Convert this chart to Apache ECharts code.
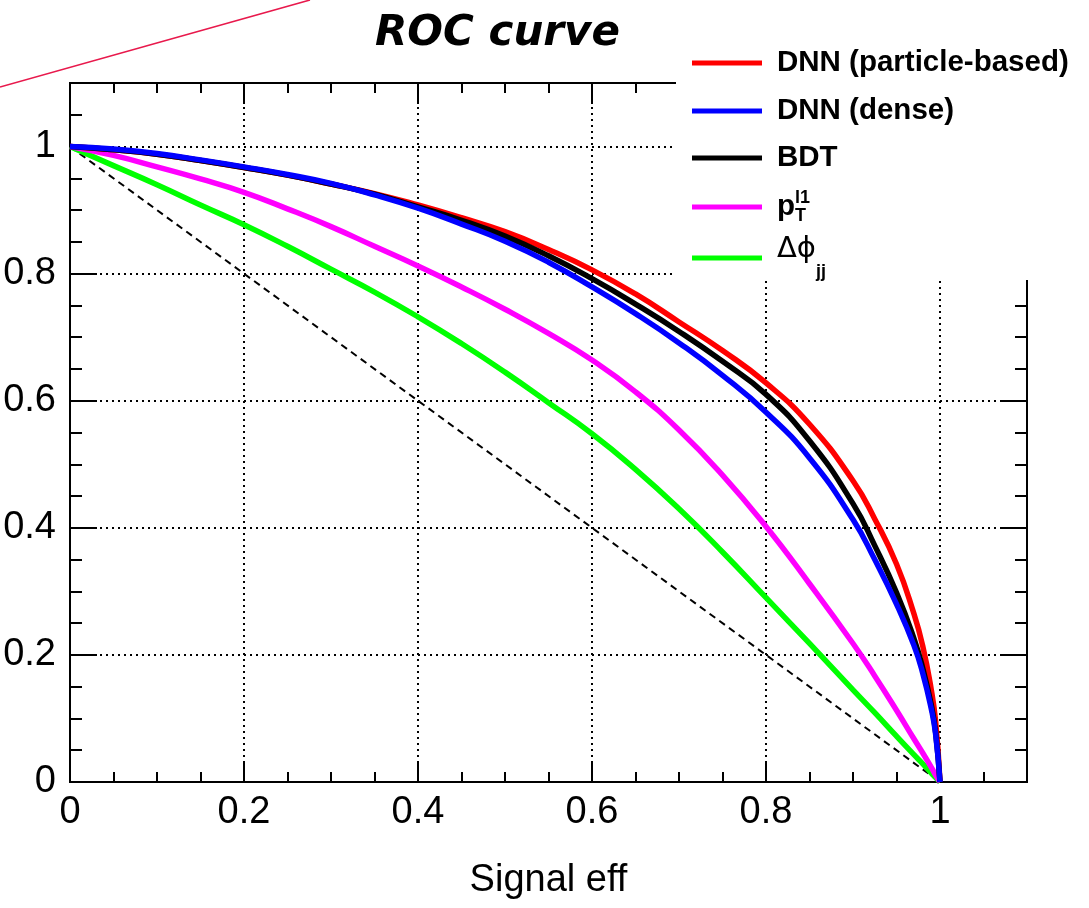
<!DOCTYPE html>
<html>
<head>
<meta charset="utf-8">
<script src="https://cdn.jsdelivr.net/npm/echarts@6/dist/echarts.min.js"></script>
<style>
  html, body { margin: 0; padding: 0; background: #fff; }
  #chart { width: 1089px; height: 908px; }
</style>
</head>
<body>
<div id="chart"></div>
<script>
// signal efficiency (x) and background rejection (y)
var signalEff = [0, 0.05, 0.1, 0.15, 0.2, 0.25, 0.3, 0.35, 0.4, 0.45, 0.5, 0.55, 0.6, 0.65, 0.7, 0.75, 0.8, 0.85, 0.9, 0.925, 0.95, 0.97, 0.98, 0.99, 0.995, 1.0];
var dnnParticle = [1, 0.995, 0.988, 0.978, 0.967, 0.955, 0.941, 0.926, 0.908, 0.888, 0.866, 0.838, 0.806, 0.768, 0.724, 0.679, 0.628, 0.563, 0.474, 0.414, 0.343, 0.265, 0.215, 0.145, 0.095, 0];
var dnnDense = [1, 0.996, 0.989, 0.979, 0.968, 0.956, 0.942, 0.924, 0.903, 0.878, 0.851, 0.818, 0.779, 0.737, 0.691, 0.640, 0.582, 0.510, 0.413, 0.350, 0.280, 0.215, 0.172, 0.115, 0.075, 0];
var bdt = [1, 0.995, 0.988, 0.978, 0.967, 0.955, 0.941, 0.925, 0.905, 0.884, 0.859, 0.828, 0.792, 0.752, 0.709, 0.662, 0.610, 0.537, 0.438, 0.372, 0.298, 0.226, 0.180, 0.121, 0.078, 0];
var ptLead = [1, 0.986, 0.968, 0.949, 0.928, 0.902, 0.874, 0.843, 0.812, 0.779, 0.744, 0.706, 0.664, 0.614, 0.554, 0.483, 0.402, 0.312, 0.218, 0.167, 0.113, 0.068, 0.046, 0.023, 0.011, 0];
var dphiJJ = [1, 0.970, 0.940, 0.908, 0.877, 0.843, 0.807, 0.771, 0.732, 0.690, 0.645, 0.597, 0.548, 0.492, 0.430, 0.362, 0.290, 0.218, 0.145, 0.109, 0.072, 0.043, 0.029, 0.014, 0.007, 0];
var randomX = [0, 1];
var randomY = [1, 0];

var seriesNames = ['DNN (particle-based)', 'DNN (dense)', 'BDT', 'pT l1', 'Δϕ jj'];
var seriesColors = ['#ff0000', '#0000ff', '#000000', '#ff00ff', '#00ff00'];
var legendRowY = [63, 111, 158, 207, 255];

function pairs(xs, ys) {
  var out = [];
  for (var i = 0; i < xs.length; i++) out.push([xs[i], ys[i]]);
  return out;
}

var chart = echarts.init(document.getElementById('chart'));
var labelFont = 'Liberation Sans, Arial, sans-serif';

function tickLabel(v) {
  if (v > 1.001) return '';
  return String(+v.toFixed(1));
}

function axis(dim, pos, step, tickLen, major) {
  var a = {
    type: 'value', min: 0, max: 1.1, interval: step, position: pos,
    axisLine: { show: false, onZero: false },
    axisTick: { show: true, inside: true, length: tickLen, lineStyle: { color: '#000', width: 2 } },
    axisLabel: { show: false },
    splitLine: { show: false }
  };
  if (major) {
    a.axisLine = { show: true, onZero: false, lineStyle: { color: '#000', width: 2 } };
    a.axisLabel = { show: true, color: '#000', fontSize: 38, fontFamily: labelFont, margin: dim === 'x' ? 12 : 14, formatter: tickLabel };
    a.splitLine = { show: true, lineStyle: { color: '#000', width: 2, type: [2, 4] } };
  }
  return a;
}

var xMain = axis('x', 'bottom', 0.2, 21, true);
xMain.name = 'Signal eff';
xMain.nameLocation = 'middle';
xMain.nameGap = 80;
xMain.nameTextStyle = { color: '#000', fontSize: 38, fontFamily: labelFont };

var lineSeries = [
  { name: 'random', type: 'line', data: pairs(randomX, randomY), symbol: 'none', color: '#000',
    lineStyle: { color: '#000', width: 2, type: [7, 5] } }
];
var curveData = [dnnParticle, dnnDense, bdt, ptLead, dphiJJ];
var drawOrder = [4, 3, 0, 2, 1];
drawOrder.forEach(function (i) {
  lineSeries.push({
    name: seriesNames[i], type: 'line', data: pairs(signalEff, curveData[i]),
    symbol: 'none', smooth: 0.5, color: seriesColors[i],
    lineStyle: { color: seriesColors[i], width: 5.5 }
  });
});

var legendText = {
  'DNN (particle-based)': '{b|DNN (particle-based)}',
  'DNN (dense)': '{b|DNN (dense)}',
  'BDT': '{b|BDT}',
  'pT l1': '{p|p}{sup|l1}{sub|T}',
  'Δϕ jj': '{g|Δϕ}{sub2|jj}'
};
var richStyles = {
  b: { fontSize: 29.5, fontWeight: 'bold', fontFamily: labelFont, color: '#000', lineHeight: 30 },
  p: { fontSize: 29.5, fontWeight: 'bold', fontFamily: labelFont, color: '#000', lineHeight: 36 },
  g: { fontSize: 29, fontFamily: 'DejaVu Sans', color: '#000', lineHeight: 46, verticalAlign: 'top' },
  sup: { fontSize: 18, fontWeight: 'bold', fontFamily: labelFont, color: '#000', width: 0, verticalAlign: 'top', lineHeight: 17 },
  sub: { fontSize: 18, fontWeight: 'bold', fontFamily: labelFont, color: '#000', verticalAlign: 'bottom', lineHeight: 17 },
  sub2: { fontSize: 18, fontWeight: 'bold', fontFamily: labelFont, color: '#000', verticalAlign: 'bottom', lineHeight: 20, padding: [36, 0, 0, 0] }
};
var legendHalf = [15, 15, 15, 18, 28];
var legends = seriesNames.map(function (n, i) {
  return {
    data: [n], left: 692, top: legendRowY[i] - legendHalf[i], padding: 0,
    icon: 'rect', itemWidth: 70, itemHeight: 5, selectedMode: false,
    formatter: function (name) { return legendText[name]; },
    textStyle: { padding: [0, 0, 0, 10], rich: richStyles }
  };
});

chart.setOption({
  animation: false,
  backgroundColor: '#fff',
  title: {
    text: 'ROC curve', left: 370, top: 8,
    textStyle: { fontSize: 42, fontWeight: 'bold', fontStyle: 'italic', fontFamily: 'DejaVu Sans', color: '#000' }
  },
  legend: legends,
  grid: { left: 70, right: 62, top: 83, bottom: 126, show: true, borderColor: '#000', borderWidth: 2 },
  xAxis: [xMain, axis('x', 'bottom', 0.05, 10, false), axis('x', 'top', 0.2, 21, false), axis('x', 'top', 0.05, 10, false)],
  yAxis: [axis('y', 'left', 0.2, 27, true), axis('y', 'left', 0.05, 12, false), axis('y', 'right', 0.2, 27, false), axis('y', 'right', 0.05, 12, false)],
  graphic: [
    { type: 'line', z: 1, shape: { x1: 0, y1: 87, x2: 310, y2: 0 }, style: { stroke: '#e8194c', lineWidth: 1.6 } },
    { type: 'rect', z: 3, shape: { x: 676, y: 40, width: 413, height: 240 }, style: { fill: '#fff' } }
  ],
  series: lineSeries
});
</script>
</body>
</html>
